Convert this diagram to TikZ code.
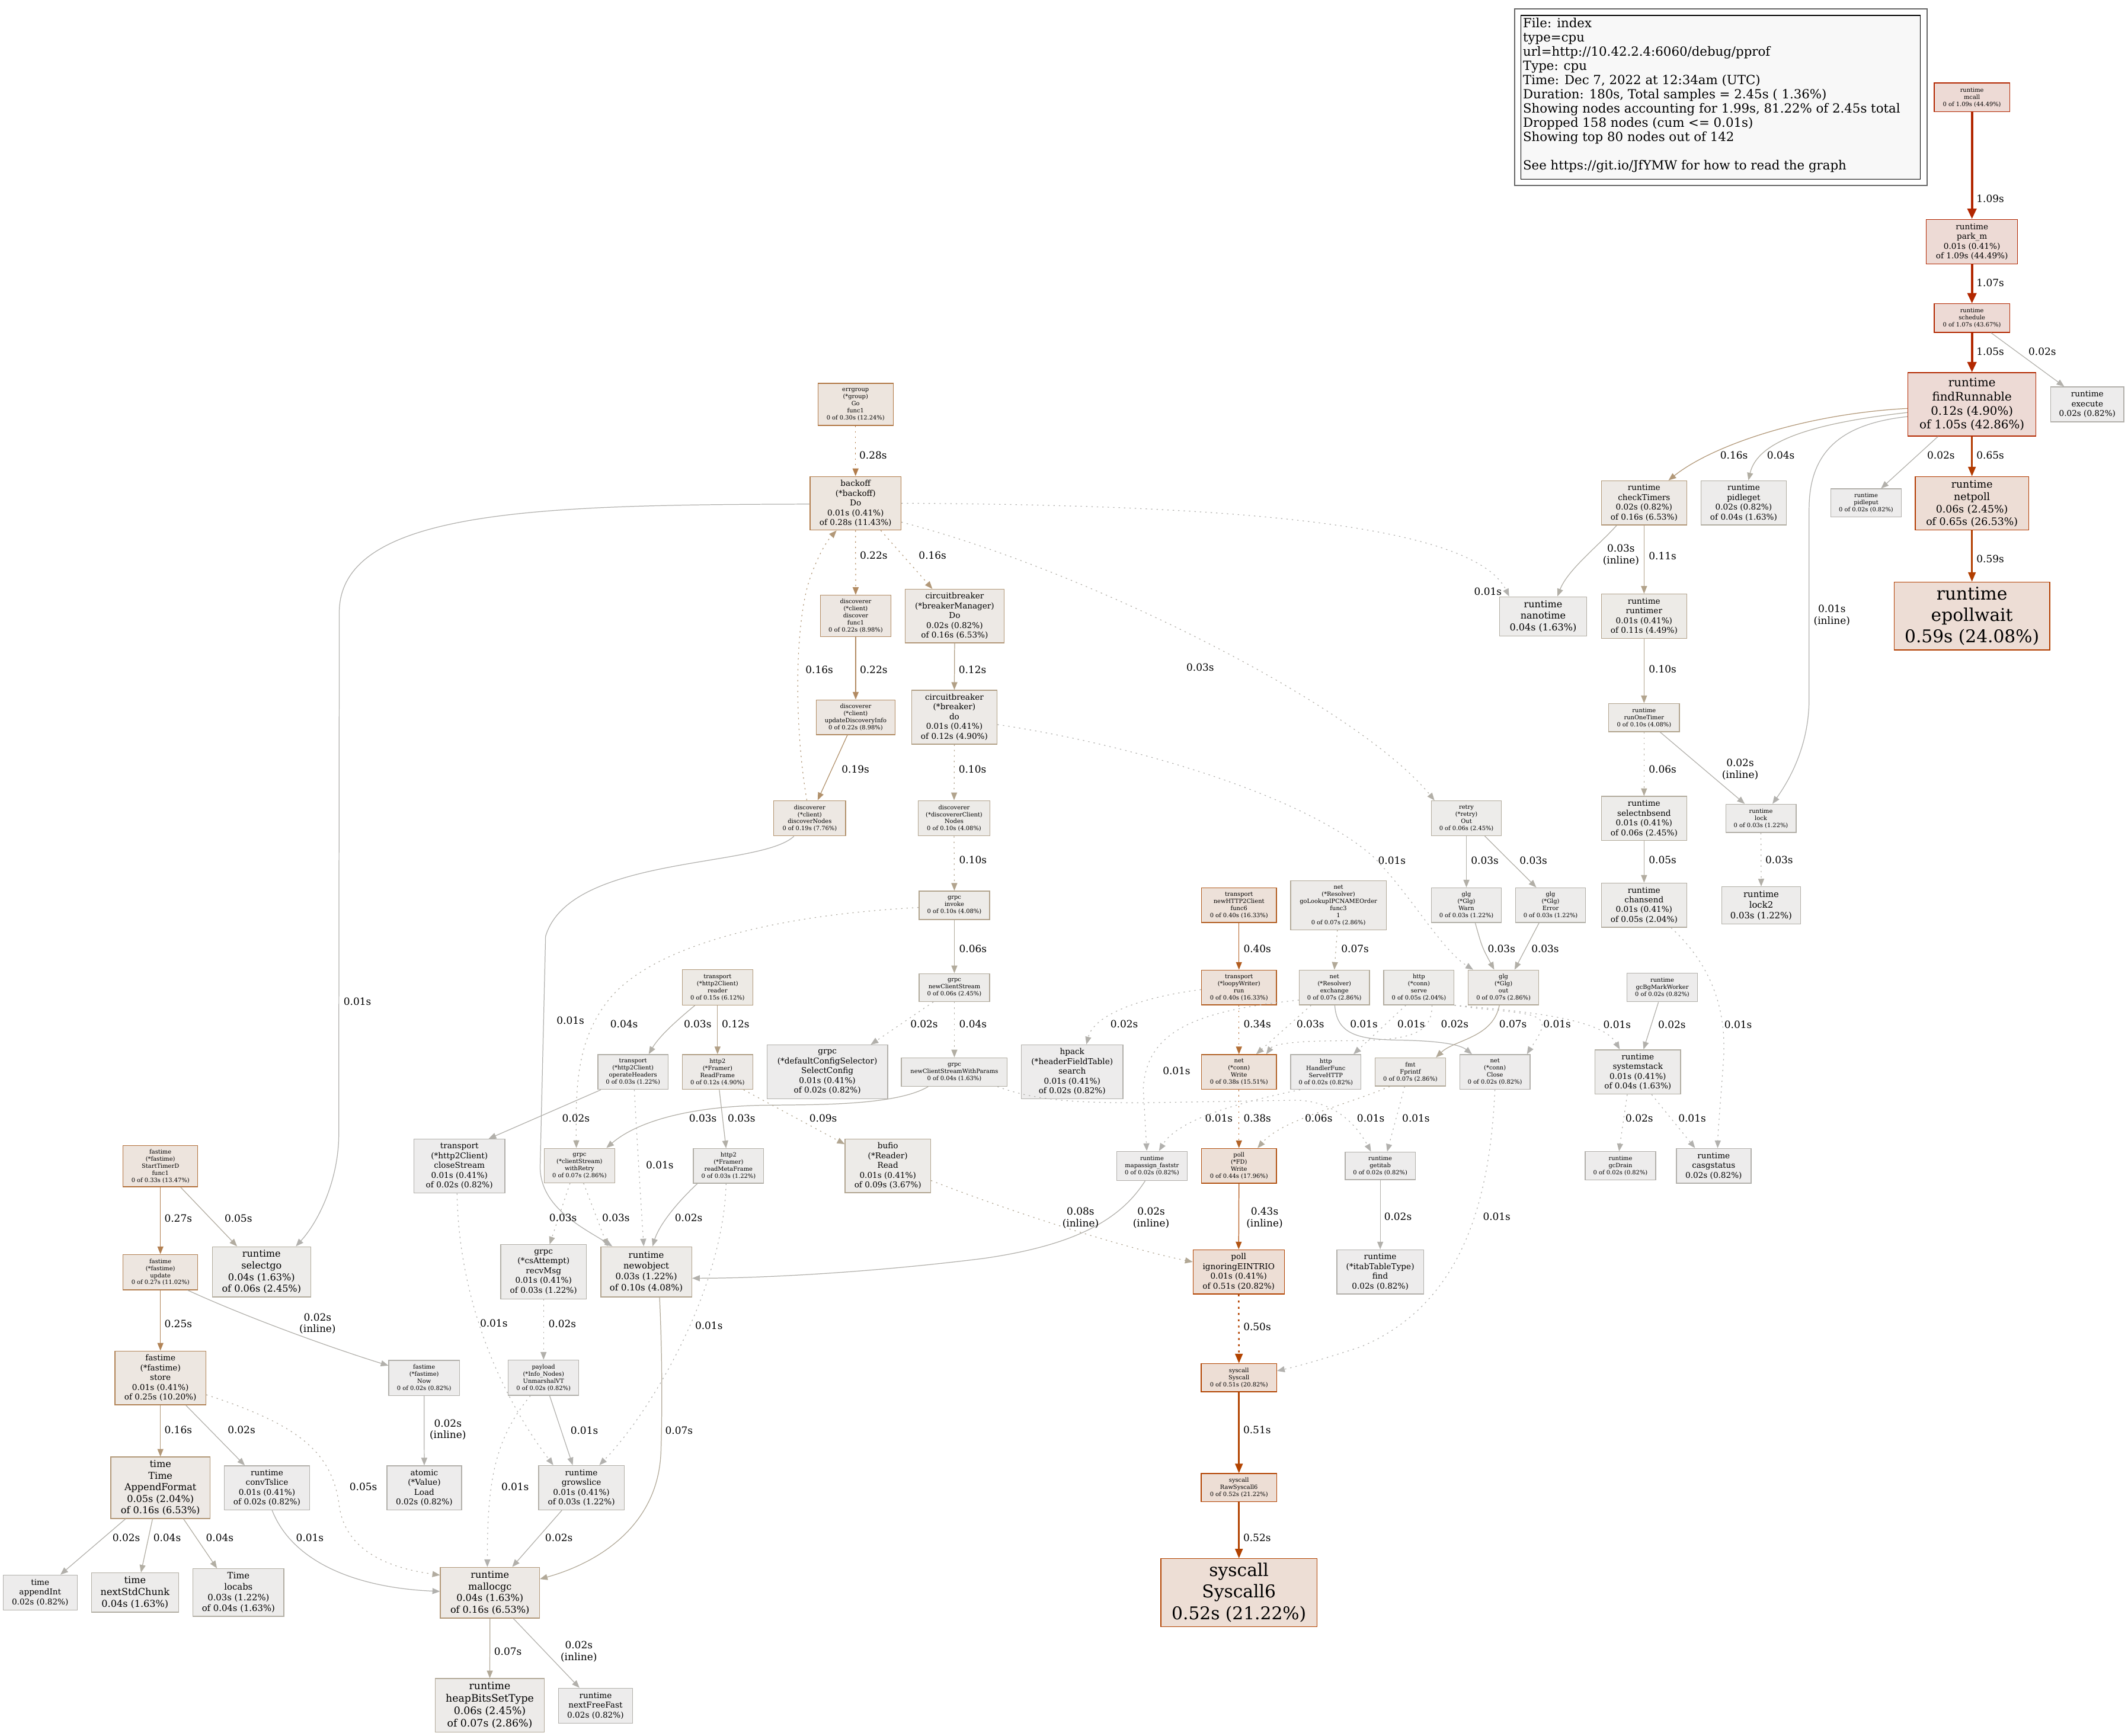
\documentclass[tikz,border=0pt]{standalone}
\usepackage{fontspec}
\setmainfont{DejaVu Serif}
\usetikzlibrary{arrows.meta}
\definecolor{f4449}{HTML}{EDDAD5}\definecolor{d4449}{HTML}{B22600}
\definecolor{d4367}{HTML}{B22700}
\definecolor{d4286}{HTML}{B22800}
\definecolor{f2653}{HTML}{EDDDD5}\definecolor{d2653}{HTML}{B23A00}
\definecolor{d2408}{HTML}{B23E00}
\definecolor{f2122}{HTML}{EDDED5}\definecolor{d2122}{HTML}{B24200}
\definecolor{d2082}{HTML}{B24300}
\definecolor{f1796}{HTML}{EDE0D7}\definecolor{d1796}{HTML}{B25212}
\definecolor{f1633}{HTML}{EDE1D9}\definecolor{d1633}{HTML}{B25D20}
\definecolor{f1551}{HTML}{EDE2DA}\definecolor{d1551}{HTML}{B26328}
\definecolor{f1347}{HTML}{EDE4DD}\definecolor{d1347}{HTML}{B2703A}
\definecolor{f1224}{HTML}{EDE5DE}\definecolor{d1224}{HTML}{B27845}
\definecolor{f1143}{HTML}{EDE6DF}\definecolor{d1143}{HTML}{B27D4C}
\definecolor{f1102}{HTML}{EDE6E0}\definecolor{d1102}{HTML}{B27F50}
\definecolor{f1020}{HTML}{EDE7E1}\definecolor{d1020}{HTML}{B28457}
\definecolor{f898}{HTML}{EDE7E2}\definecolor{d898}{HTML}{B28B62}
\definecolor{f776}{HTML}{EDE8E3}\definecolor{d776}{HTML}{B2926D}
\definecolor{f653}{HTML}{EDE9E5}\definecolor{d653}{HTML}{B29878}
\definecolor{f612}{HTML}{EDEAE5}\definecolor{d612}{HTML}{B29A7B}
\definecolor{f490}{HTML}{EDEAE7}\definecolor{d490}{HTML}{B2A086}
\definecolor{f449}{HTML}{EDEBE7}\definecolor{d449}{HTML}{B2A28A}
\definecolor{f408}{HTML}{EDEBE8}\definecolor{d408}{HTML}{B2A48E}
\definecolor{d367}{HTML}{B2A691}
\definecolor{f286}{HTML}{EDEBE9}\definecolor{d286}{HTML}{B2A998}
\definecolor{f245}{HTML}{EDECEA}\definecolor{d245}{HTML}{B2AB9C}
\definecolor{d204}{HTML}{B2ACA0}
\definecolor{f163}{HTML}{EDECEB}\definecolor{d163}{HTML}{B2AEA3}
\definecolor{d122}{HTML}{B2AFA7}
\definecolor{f082}{HTML}{EDECEC}\definecolor{d082}{HTML}{B2B0AB}
\definecolor{d1755}{HTML}{B25515}
\definecolor{d1388}{HTML}{B26E36}
\definecolor{d327}{HTML}{B2A895}
\definecolor{d041}{HTML}{B2B1AE}
\definecolor{legbg}{HTML}{F8F8F8}
\tikzset{
  pn/.style={rectangle, inner sep=0pt, align=center, line width=0.6pt},
  t8/.style={font=\fontsize{4.32}{5.2}\selectfont},
  t11/.style={font=\fontsize{5.94}{7.2}\selectfont},
  t12/.style={font=\fontsize{6.48}{7.9}\selectfont},
  t13/.style={font=\fontsize{7.02}{8.55}\selectfont},
  t14/.style={font=\fontsize{7.56}{9.2}\selectfont},
  t16/.style={font=\fontsize{8.64}{10.4}\selectfont},
  t24/.style={font=\fontsize{12.96}{15.8}\selectfont},
  c4449/.style={fill=f4449,draw=d4449},
  c4367/.style={fill=f4449,draw=d4367},
  c4286/.style={fill=f4449,draw=d4286},
  c2653/.style={fill=f2653,draw=d2653},
  c2408/.style={fill=f2653,draw=d2408},
  c2122/.style={fill=f2122,draw=d2122},
  c2082/.style={fill=f2122,draw=d2082},
  c1796/.style={fill=f1796,draw=d1796},
  c1633/.style={fill=f1633,draw=d1633},
  c1551/.style={fill=f1551,draw=d1551},
  c1347/.style={fill=f1347,draw=d1347},
  c1224/.style={fill=f1224,draw=d1224},
  c1143/.style={fill=f1143,draw=d1143},
  c1102/.style={fill=f1102,draw=d1102},
  c1020/.style={fill=f1020,draw=d1020},
  c898/.style={fill=f898,draw=d898},
  c776/.style={fill=f776,draw=d776},
  c653/.style={fill=f653,draw=d653},
  c612/.style={fill=f612,draw=d612},
  c490/.style={fill=f490,draw=d490},
  c449/.style={fill=f449,draw=d449},
  c408/.style={fill=f408,draw=d408},
  c367/.style={fill=f408,draw=d367},
  c286/.style={fill=f286,draw=d286},
  c245/.style={fill=f245,draw=d245},
  c204/.style={fill=f245,draw=d204},
  c163/.style={fill=f163,draw=d163},
  c122/.style={fill=f163,draw=d122},
  c082/.style={fill=f082,draw=d082},
  ed/.style={line width=0.54pt, -{Triangle[length=5.6pt,width=4.4pt]}},
  edb/.style={line width=1.08pt, -{Triangle[length=7pt,width=5.6pt]}},
  edc/.style={line width=1.62pt, -{Triangle[length=7.6pt,width=6.6pt]}},
  dt/.style={dash pattern=on 1pt off 3pt},
  dtb/.style={dash pattern=on 1.4pt off 3.2pt},
  el/.style={font=\fontsize{7.4}{8.6}\selectfont, anchor=west, inner sep=0pt},
  elc/.style={font=\fontsize{7.4}{8.6}\selectfont, anchor=center, align=center, inner sep=0pt},
}
\newcommand{\pprofnode}[7]{\node[pn,#6,minimum width=#4pt,minimum height=#5pt] (#1) at (#2,#3) {#7};}
\newcommand{\pprofel}[4]{\node[el] (#1) at (#2,#3) {#4};}
\newcommand{\pprofelc}[4]{\node[elc] (#1) at (#2,#3) {#4};}
\begin{document}
\begin{tikzpicture}[x=1pt,y=-1pt]
\useasboundingbox (0,0) rectangle (1568,1279);
\fill[white] (0,0) rectangle (1568,1279);
% legend
\node[draw=black!60, line width=0.8pt, minimum width=304pt, minimum height=130.2pt, inner sep=0pt] (legendframe) at (1268,71.6) {};
\node[draw=black, fill=legbg, line width=0.6pt, minimum width=294.1pt, minimum height=120.8pt, inner sep=0pt] (legend) at (1267.75,71.8) {};
\node[anchor=north west, inner sep=0pt, align=left, font=\fontsize{9.3}{10.45}\selectfont] (legendtext) at (1122,13.2) {File: index\\type=cpu\\url=http://10.42.2.4:6060/debug/pprof\\Type: cpu\\Time: Dec 7, 2022 at 12:34am (UTC)\\Duration: 180s, Total samples = 2.45s ( 1.36\%)\\Showing nodes accounting for 1.99s, 81.22\% of 2.45s total\\Dropped 158 nodes (cum <= 0.01s)\\Showing top 80 nodes out of 142\\\mbox{}\\See https://git.io/JfYMW for how to read the graph};
% nodes
\pprofnode{mcall}{1453}{71.8}{55.6}{21.2}{t8,c4449}{runtime\\mcall\\0 of 1.09s (44.49\%)}
\pprofnode{parkm}{1453}{178.1}{67.3}{32.9}{t11,c4449}{runtime\\park\_m\\0.01s (0.41\%)\\of 1.09s (44.49\%)}
\pprofnode{schedule}{1453}{234.4}{55.6}{21}{t8,c4367}{runtime\\schedule\\0 of 1.07s (43.67\%)}
\pprofnode{findRunnable}{1453}{298}{94.3}{46.7}{t16,c4286}{runtime\\findRunnable\\0.12s (4.90\%)\\of 1.05s (42.86\%)}
\pprofnode{execute}{1538}{298}{54}{25.7}{t11,c082}{runtime\\execute\\0.02s (0.82\%)}
\pprofnode{checkTimers}{1211.4}{370.6}{63}{32.6}{t11,c653}{runtime\\checkTimers\\0.02s (0.82\%)\\of 0.16s (6.53\%)}
\pprofnode{pidleget}{1284.8}{370.6}{63}{32.6}{t11,c163}{runtime\\pidleget\\0.02s (0.82\%)\\of 0.04s (1.63\%)}
\pprofnode{pidleput}{1375}{370.7}{51.8}{20.8}{t8,c082}{runtime\\pidleput\\0 of 0.02s (0.82\%)}
\pprofnode{netpoll}{1453}{371}{83.6}{39.4}{t14,c2653}{runtime\\netpoll\\0.06s (2.45\%)\\of 0.65s (26.53\%)}
\pprofnode{epollwait}{1453}{454}{114.8}{50}{t24,c2408}{runtime\\epollwait\\0.59s (24.08\%)}
\pprofnode{nanotime}{1137}{454.2}{64}{28.8}{t13,c163}{runtime\\nanotime\\0.04s (1.63\%)}
\pprofnode{runtimer}{1211.4}{454.1}{63}{32.6}{t11,c449}{runtime\\runtimer\\0.01s (0.41\%)\\of 0.11s (4.49\%)}
\pprofnode{runOneTimer}{1211.4}{528.9}{52.2}{20.8}{t8,c408}{runtime\\runOneTimer\\0 of 0.10s (4.08\%)}
\pprofnode{selectnbsend}{1211.4}{603.2}{63}{32.6}{t11,c245}{runtime\\selectnbsend\\0.01s (0.41\%)\\of 0.06s (2.45\%)}
\pprofnode{lock}{1297.5}{603.1}{51.8}{20.8}{t8,c122}{runtime\\lock\\0 of 0.03s (1.22\%)}
\pprofnode{chansend}{1211.4}{667.1}{63}{32.6}{t11,c204}{runtime\\chansend\\0.01s (0.41\%)\\of 0.05s (2.04\%)}
\pprofnode{lockTwo}{1297.7}{667.2}{58}{27.3}{t12,c122}{runtime\\lock2\\0.03s (1.22\%)}
\pprofnode{gcBgMarkWorker}{1224.8}{727.7}{51.8}{21.1}{t8,c082}{runtime\\gcBgMarkWorker\\0 of 0.02s (0.82\%)}
\pprofnode{systemstack}{1206.8}{790}{63}{32.7}{t11,c163}{runtime\\systemstack\\0.01s (0.41\%)\\of 0.04s (1.63\%)}
\pprofnode{gcDrain}{1194}{859.2}{52}{21}{t8,c082}{runtime\\gcDrain\\0 of 0.02s (0.82\%)}
\pprofnode{casgstatus}{1262.7}{859.2}{55}{25.6}{t11,c082}{runtime\\casgstatus\\0.02s (0.82\%)}
\pprofnode{retry}{1080.5}{603}{51.6}{25.6}{t8,c245}{retry\\(*retry)\\Out\\0 of 0.06s (2.45\%)}
\pprofnode{glgWarn}{1080.5}{667.1}{51.6}{25.6}{t8,c122}{glg\\(*Glg)\\Warn\\0 of 0.03s (1.22\%)}
\pprofnode{glgError}{1142.5}{667.1}{51.6}{25.6}{t8,c122}{glg\\(*Glg)\\Error\\0 of 0.03s (1.22\%)}
\pprofnode{glgOut}{1107.8}{727.7}{51.8}{25.6}{t8,c286}{glg\\(*Glg)\\out\\0 of 0.07s (2.86\%)}
\pprofnode{newHTTP}{912.9}{667.1}{55.3}{25.6}{t8,c1633}{transport\\newHTTP2Client\\func6\\0 of 0.40s (16.33\%)}
\pprofnode{goLookup}{986.2}{667.2}{70.4}{36}{t8,c286}{net\\(*Resolver)\\goLookupIPCNAMEOrder\\func3\\1\\0 of 0.07s (2.86\%)}
\pprofnode{loopy}{912.9}{727.7}{55.3}{25.6}{t8,c1633}{transport\\(*loopyWriter)\\run\\0 of 0.40s (16.33\%)}
\pprofnode{exchange}{983.2}{727.7}{51.6}{25.6}{t8,c286}{net\\(*Resolver)\\exchange\\0 of 0.07s (2.86\%)}
\pprofnode{serve}{1045.5}{727.7}{51.8}{25.6}{t8,c204}{http\\(*conn)\\serve\\0 of 0.05s (2.04\%)}
\pprofnode{netWrite}{912.9}{790}{55.3}{25.6}{t8,c1551}{net\\(*conn)\\Write\\0 of 0.38s (15.51\%)}
\pprofnode{handler}{976.9}{790}{51.8}{25.6}{t8,c082}{http\\HandlerFunc\\ServeHTTP\\0 of 0.02s (0.82\%)}
\pprofnode{fprintf}{1039.2}{790}{51.7}{20.8}{t8,c286}{fmt\\Fprintf\\0 of 0.07s (2.86\%)}
\pprofnode{netClose}{1101.5}{790}{51.8}{25.6}{t8,c082}{net\\(*conn)\\Close\\0 of 0.02s (0.82\%)}
\pprofnode{hpack}{790}{789.8}{75}{39.7}{t11,c082}{hpack\\(*headerFieldTable)\\search\\0.01s (0.41\%)\\of 0.02s (0.82\%)}
\pprofnode{mapassign}{848.8}{859.2}{52}{21.4}{t8,c082}{runtime\\mapassign\_faststr\\0 of 0.02s (0.82\%)}
\pprofnode{pollWrite}{912.9}{859.2}{55.3}{25.6}{t8,c1796}{poll\\(*FD)\\Write\\0 of 0.44s (17.96\%)}
\pprofnode{getitab}{1017}{859.2}{51.8}{20.4}{t8,c082}{runtime\\getitab\\0 of 0.02s (0.82\%)}
\pprofnode{eintr}{912.7}{937.3}{67.2}{32.6}{t11,c2082}{poll\\ignoringEINTRIO\\0.01s (0.41\%)\\of 0.51s (20.82\%)}
\pprofnode{itabfind}{1017}{937.3}{64}{32.6}{t11,c082}{runtime\\(*itabTableType)\\find\\0.02s (0.82\%)}
\pprofnode{syscall}{912.9}{1015.3}{55.6}{20.7}{t8,c2082}{syscall\\Syscall\\0 of 0.51s (20.82\%)}
\pprofnode{rawsix}{912.9}{1096.3}{55.6}{20.7}{t8,c2122}{syscall\\RawSyscall6\\0 of 0.52s (21.22\%)}
\pprofnode{syscallsix}{912.9}{1173.7}{115}{50}{t24,c2122}{syscall\\Syscall6\\0.52s (21.22\%)}
\pprofnode{errgroup}{630.4}{298}{55.4}{31}{t8,c1224}{errgroup\\(*group)\\Go\\func1\\0 of 0.30s (12.24\%)}
\pprofnode{backoff}{630.4}{370.9}{67}{39.5}{t11,c1143}{backoff\\(*backoff)\\Do\\0.01s (0.41\%)\\of 0.28s (11.43\%)}
\pprofnode{discFunc}{630.5}{454}{52}{30.6}{t8,c898}{discoverer\\(*client)\\discover\\func1\\0 of 0.22s (8.98\%)}
\pprofnode{breakerMgr}{703.4}{454}{73}{39.5}{t11,c653}{circuitbreaker\\(*breakerManager)\\Do\\0.02s (0.82\%)\\of 0.16s (6.53\%)}
\pprofnode{updDisc}{630.5}{528.6}{58}{25.6}{t8,c898}{discoverer\\(*client)\\updateDiscoveryInfo\\0 of 0.22s (8.98\%)}
\pprofnode{breakerDo}{703.2}{528.5}{63}{39.7}{t11,c490}{circuitbreaker\\(*breaker)\\do\\0.01s (0.41\%)\\of 0.12s (4.90\%)}
\pprofnode{discNodes}{596.6}{603}{53}{26}{t8,c776}{discoverer\\(*client)\\discoverNodes\\0 of 0.19s (7.76\%)}
\pprofnode{discClient}{703}{603}{53}{26}{t8,c408}{discoverer\\(*discovererClient)\\Nodes\\0 of 0.10s (4.08\%)}
\pprofnode{invoke}{703.2}{667.2}{52}{21}{t8,c408}{grpc\\invoke\\0 of 0.10s (4.08\%)}
\pprofnode{newCS}{703.2}{727.8}{52}{20.6}{t8,c245}{grpc\\newClientStream\\0 of 0.06s (2.45\%)}
\pprofnode{newCSWP}{703.2}{790}{78}{21}{t8,c163}{grpc\\newClientStreamWithParams\\0 of 0.04s (1.63\%)}
\pprofnode{selectConfig}{609.6}{790}{89}{39.7}{t11,c082}{grpc\\(*defaultConfigSelector)\\SelectConfig\\0.01s (0.41\%)\\of 0.02s (0.82\%)}
\pprofnode{reader}{528.7}{727.7}{52}{26}{t8,c612}{transport\\(*http2Client)\\reader\\0 of 0.15s (6.12\%)}
\pprofnode{operateHeaders}{466.4}{790}{51.7}{25.7}{t8,c122}{transport\\(*http2Client)\\operateHeaders\\0 of 0.03s (1.22\%)}
\pprofnode{readFrame}{528.7}{790}{52}{25.7}{t8,c490}{http2\\(*Framer)\\ReadFrame\\0 of 0.12s (4.90\%)}
\pprofnode{withRetry}{427}{859}{52}{25.4}{t8,c286}{grpc\\(*clientStream)\\withRetry\\0 of 0.07s (2.86\%)}
\pprofnode{readMeta}{536.8}{859.2}{51.7}{25.4}{t8,c122}{http2\\(*Framer)\\readMetaFrame\\0 of 0.03s (1.22\%)}
\pprofnode{bufio}{654.2}{859.2}{63}{39.4}{t11,c367}{bufio\\(*Reader)\\Read\\0.01s (0.41\%)\\of 0.09s (3.67\%)}
\pprofnode{closeStream}{338.5}{859.4}{67}{39.7}{t11,c082}{transport\\(*http2Client)\\closeStream\\0.01s (0.41\%)\\of 0.02s (0.82\%)}
\pprofnode{newobject}{476.2}{937.3}{67}{37}{t12,c408}{runtime\\newobject\\0.03s (1.22\%)\\of 0.10s (4.08\%)}
\pprofnode{recvMsg}{400.5}{937.3}{63}{40}{t11,c122}{grpc\\(*csAttempt)\\recvMsg\\0.01s (0.41\%)\\of 0.03s (1.22\%)}
\pprofnode{unmarshal}{400.5}{1015.3}{52}{26}{t8,c082}{payload\\(*Info\_Nodes)\\UnmarshalVT\\0 of 0.02s (0.82\%)}
\pprofnode{growslice}{428.4}{1096.4}{63}{32.7}{t11,c122}{runtime\\growslice\\0.01s (0.41\%)\\of 0.03s (1.22\%)}
\pprofnode{mallocgc}{361}{1173.8}{73}{37.4}{t13,c653}{runtime\\mallocgc\\0.04s (1.63\%)\\of 0.16s (6.53\%)}
\pprofnode{heapBits}{360.9}{1256.8}{80.5}{39.5}{t14,c286}{runtime\\heapBitsSetType\\0.06s (2.45\%)\\of 0.07s (2.86\%)}
\pprofnode{nextFreeFast}{438.8}{1257}{54.7}{25.7}{t11,c082}{runtime\\nextFreeFast\\0.02s (0.82\%)}
\pprofnode{startTimer}{118.2}{859.4}{55}{30.5}{t8,c1347}{fastime\\(*fastime)\\StartTimerD\\func1\\0 of 0.33s (13.47\%)}
\pprofnode{selectgo}{192.7}{937.3}{72.6}{37}{t13,c245}{runtime\\selectgo\\0.04s (1.63\%)\\of 0.06s (2.45\%)}
\pprofnode{update}{118.2}{937.5}{55}{26}{t8,c1102}{fastime\\(*fastime)\\update\\0 of 0.27s (11.02\%)}
\pprofnode{store}{118.2}{1015.5}{67}{39.7}{t11,c1020}{fastime\\(*fastime)\\store\\0.01s (0.41\%)\\of 0.25s (10.20\%)}
\pprofnode{now}{312.5}{1015.5}{52}{26}{t8,c082}{fastime\\(*fastime)\\Now\\0 of 0.02s (0.82\%)}
\pprofnode{appendFormat}{118.2}{1096.4}{73}{45.3}{t13,c653}{time\\Time\\AppendFormat\\0.05s (2.04\%)\\of 0.16s (6.53\%)}
\pprofnode{convTslice}{196.7}{1096.5}{62.8}{32.5}{t11,c082}{runtime\\convTslice\\0.01s (0.41\%)\\of 0.02s (0.82\%)}
\pprofnode{atomicLoad}{312.6}{1096.5}{55}{32.5}{t11,c082}{atomic\\(*Value)\\Load\\0.02s (0.82\%)}
\pprofnode{appendInt}{29.6}{1173.6}{54.6}{25.7}{t11,c082}{time\\appendInt\\0.02s (0.82\%)}
\pprofnode{nextStdChunk}{99.5}{1173.6}{64.2}{28.9}{t13,c163}{time\\nextStdChunk\\0.04s (1.63\%)}
\pprofnode{locabs}{175.7}{1173.6}{67}{35}{t12,c163}{Time\\locabs\\0.03s (1.22\%)\\of 0.04s (1.63\%)}
% edges: top chain
\draw[edc,draw=d4449] (mcall.south) -- (parkm.north);
\draw[edc,draw=d4367] (parkm.south) -- (schedule.north);
\draw[edc,draw=d4286] (schedule.south) -- (findRunnable.north);
\draw[ed,draw=d082] ([xshift=14pt]schedule.south) -- ([xshift=-17pt]execute.north);
\draw[ed,draw=d653] ([yshift=-3pt]findRunnable.west) .. controls (1330,305) and (1262,328) .. ([xshift=18pt]checkTimers.north);
\draw[ed,draw=d163] ([yshift=-6pt]findRunnable.west) .. controls (1335,312) and (1295,325) .. ([xshift=3.5pt]pidleget.north);
\draw[ed,draw=d041] ([yshift=-9pt]findRunnable.west) .. controls (1360,312) and (1333,330) .. (1333,375) -- (1333,515) .. controls (1333,545) and (1322,570) .. ([xshift=8.5pt]lock.north);
\draw[ed,draw=d082] ([xshift=-25pt]findRunnable.south) -- ([xshift=11pt]pidleput.north);
\draw[edb,draw=d2653] (findRunnable.south) -- (netpoll.north);
\draw[edb,draw=d2408] (netpoll.south) -- (epollwait.north);
% timers
\draw[ed,draw=d122] ([xshift=-20.2pt]checkTimers.south) .. controls (1178,402) and (1155,420) .. ([xshift=10.6pt]nanotime.north);
\draw[ed,draw=d449] (checkTimers.south) -- (runtimer.north);
\draw[ed,draw=d408] (runtimer.south) -- (runOneTimer.north);
\draw[ed,dt,draw=d245] (runOneTimer.south) -- (selectnbsend.north);
\draw[ed,draw=d082] ([xshift=11.9pt]runOneTimer.south) -- ([xshift=-11.9pt]lock.north);
\draw[ed,draw=d204] (selectnbsend.south) -- (chansend.north);
\draw[ed,dt,draw=d122] (lock.south) -- (lockTwo.north);
\draw[ed,dt,draw=d041] ([xshift=19.9pt]chansend.south) .. controls (1262,712) and (1272,745) .. (1270,780) .. controls (1268,810) and (1266,830) .. ([xshift=2.9pt]casgstatus.north);
\draw[ed,draw=d082] ([xshift=-2.8pt]gcBgMarkWorker.south) -- ([xshift=4.2pt]systemstack.north);
\draw[ed,dt,draw=d041] (serve.south east) .. controls (1120,745) and (1180,750) .. ([xshift=-13.3pt]systemstack.north);
\draw[ed,dt,draw=d082] ([xshift=-7.8pt]systemstack.south) .. controls (1196,825) .. ([xshift=-1pt]gcDrain.north);
\draw[ed,dt,draw=d041] ([xshift=10.2pt]systemstack.south) -- ([xshift=-13.7pt]casgstatus.north);
% glg
\draw[ed,draw=d122] (retry.south) -- (glgWarn.north);
\draw[ed,draw=d122] ([xshift=13.5pt]retry.south) -- ([xshift=-10.5pt]glgError.north);
\draw[ed,draw=d122] ([xshift=6.5pt]glgWarn.south) .. controls (1092,698) .. ([xshift=-6.8pt]glgOut.north);
\draw[ed,draw=d122] ([xshift=-8.5pt]glgError.south) -- ([xshift=8.2pt]glgOut.north);
\draw[ed,dt,draw=d041] ([yshift=-5.5pt]breakerDo.east) .. controls (830,548) and (960,585) .. (1012,631.5) .. controls (1040,660) and (1062,700) .. ([xshift=-22.3pt]glgOut.north);
\draw[ed,dt,draw=d122] ([yshift=-13.9pt]backoff.east) .. controls (800,420) and (1000,520) .. ([xshift=-23.5pt]retry.north);
\draw[ed,dt,draw=d041] (backoff.east) .. controls (900,372) and (1085,385) .. ([xshift=-25pt]nanotime.north);
% net
\draw[ed,draw=d1633] (newHTTP.south) -- (loopy.north);
\draw[ed,dt,draw=d286] ([xshift=-0.8pt]goLookup.south) -- (exchange.north);
\draw[ed,dt,draw=d1388] (loopy.south) -- (netWrite.north);
\draw[ed,dt,draw=d082] ([yshift=-1.6pt]loopy.west) .. controls (840,735) and (806,748) .. ([xshift=10.5pt]hpack.north);
\draw[ed,dt,draw=d122] ([xshift=-17.1pt]exchange.south) -- ([xshift=12.7pt]netWrite.north);
\draw[ed,draw=d041] ([xshift=0.3pt]exchange.south) .. controls (985,762) and (1000,766) .. (1030,766.5) .. controls (1062,767) and (1076,770) .. ([xshift=-16.9pt]netClose.north);
\draw[ed,dt,draw=d041] ([yshift=-9.3pt]exchange.west) .. controls (880,745) and (845,760) .. (842.4,802) -- ([xshift=-3.8pt]mapassign.north);
\draw[ed,dt,draw=d041] ([xshift=-9.6pt]serve.south) -- ([xshift=20.4pt]handler.north);
\draw[ed,dt,draw=d082] ([xshift=9.7pt]serve.south) .. controls (1055,762) and (1040,767) .. (990,767) .. controls (950,767) and (938,770) .. ([xshift=20.1pt]netWrite.north);
\draw[ed,draw=d286] ([xshift=-3pt]glgOut.south) .. controls (1100,765) and (1072,766) .. ([xshift=18.8pt]fprintf.north);
\draw[ed,dt,draw=d041] (serve.south east) .. controls (1110,747) and (1140,744) .. (1136,758) .. controls (1133,766) and (1128,772) .. ([xshift=23.6pt]netClose.north);
\draw[ed,dt,draw=d1551] (netWrite.south) -- (pollWrite.north);
\draw[ed,dt,draw=d245] ([xshift=-15.2pt]fprintf.south) .. controls (990,815) and (945,825) .. ([xshift=13.7pt]pollWrite.north);
\draw[ed,dt,draw=d041] ([xshift=-4.2pt]fprintf.south) -- ([xshift=5.1pt]getitab.north);
\draw[ed,dt,draw=d041] ([xshift=31.8pt]newCSWP.south) .. controls (765,812) and (800,813) .. (850,812.6) -- (956,810.8) .. controls (985,812) and (1000,830) .. ([xshift=-6.8pt]getitab.north);
\draw[ed,dt,draw=d041] ([xshift=-18.9pt]handler.south) .. controls (900,815) and (866,828) .. ([xshift=5.2pt]mapassign.north);
\draw[ed,draw=d1755] (pollWrite.south) -- (eintr.north);
\draw[ed,draw=d082] ([xshift=-5pt]mapassign.south) .. controls (825,900) and (790,918) .. (724.8,927.4) .. controls (640,938) and (560,942) .. ([yshift=-4.7pt]newobject.east);
\draw[edb,dtb,draw=d2082] (eintr.south) -- (syscall.north);
\draw[edb,draw=d2082] (syscall.south) -- (rawsix.north);
\draw[edb,draw=d2122] (rawsix.south) -- (syscallsix.north);
\draw[ed,draw=d082] (getitab.south) -- (itabfind.north);
\draw[ed,dt,draw=d041] (netClose.south) .. controls (1098,880) and (1080,960) .. (1002.8,992.5) .. controls (980,1000) and (960,1006) .. ([yshift=5pt]syscall.east);
\draw[ed,dt,draw=d327] ([yshift=-10.8pt]bufio.east) .. controls (750,895) and (830,920) .. ([yshift=7.3pt]eintr.west);
% backoff cluster
\draw[ed,dt,draw=d1143] (errgroup.south) -- (backoff.north);
\draw[ed,dt,draw=d898] (backoff.south) -- (discFunc.north);
\draw[ed,dt,draw=d653] ([xshift=18.6pt]backoff.south) -- ([xshift=-16.4pt]breakerMgr.north);
\draw[ed,draw=d898] (discFunc.south) -- (updDisc.north);
\draw[ed,draw=d490] (breakerMgr.south) -- (breakerDo.north);
\draw[ed,draw=d776] ([xshift=-6.1pt]updDisc.south) -- ([xshift=5.9pt]discNodes.north);
\draw[ed,dt,draw=d653] ([xshift=-2.1pt]discNodes.north) .. controls (586,540) and (585,470) .. (595,432) .. controls (600,415) and (608,400) .. ([xshift=-14pt]backoff.south);
\draw[ed,dt,draw=d408] (breakerDo.south) -- (discClient.north);
\draw[ed,dt,draw=d408] (discClient.south) -- (invoke.north);
\draw[ed,draw=d245] (invoke.south) -- (newCS.north);
\draw[ed,dt,draw=d163] ([yshift=-1.6pt]invoke.west) .. controls (560,675) and (480,700) .. (450,735) .. controls (425,765) and (424,800) .. ([xshift=-2.3pt]withRetry.north);
\draw[ed,dt,draw=d163] (newCS.south) -- (newCSWP.north);
\draw[ed,dt,draw=d082] ([xshift=-15.5pt]newCS.south) -- ([xshift=32pt]selectConfig.north);
\draw[ed,draw=d122] ([xshift=-19.3pt]newCSWP.south) .. controls (660,815) and (600,814) .. (566,814.5) .. controls (510,815) and (470,826) .. ([xshift=19.8pt]withRetry.north);
\draw[ed,draw=d122] ([xshift=-16.7pt]reader.south) .. controls (495,755) and (485,765) .. ([xshift=11.6pt]operateHeaders.north);
\draw[ed,draw=d490] (reader.south) -- (readFrame.north);
\draw[ed,draw=d082] ([xshift=-23.7pt]operateHeaders.south) -- ([xshift=21.5pt]closeStream.north);
\draw[ed,dt,draw=d041] ([xshift=1pt]operateHeaders.south) .. controls (470,850) .. ([xshift=-1.9pt]newobject.north);
\draw[ed,draw=d122] ([xshift=1.3pt]readFrame.south) -- ([xshift=-1.8pt]readMeta.north);
\draw[ed,dt,draw=d367] ([xshift=19.2pt]readFrame.south) -- ([yshift=-4pt]bufio.north west);
\draw[ed,dt,draw=d122] ([xshift=-7pt]withRetry.south) -- ([xshift=4.5pt]recvMsg.north);
\draw[ed,dt,draw=d122] ([xshift=3pt]withRetry.south) -- ([xshift=-28.5pt]newobject.north);
\draw[ed,draw=d082] ([xshift=-22.9pt]readMeta.south) .. controls (495,890) and (485,905) .. ([xshift=4.6pt]newobject.north);
\draw[ed,dt,draw=d041] ([xshift=-1.8pt]readMeta.south) .. controls (533,950) and (480,1040) .. ([xshift=13.2pt]growslice.north);
\draw[ed,draw=d041] ([xshift=-11.6pt]discNodes.south) .. controls (560,640) and (420,630) .. (402,690) -- (398,860) .. controls (398,890) and (430,905) .. ([xshift=-25pt]newobject.north);
\draw[ed,draw=d041] ([yshift=-0.6pt]backoff.west) .. controls (400,372) and (252,375) .. (250,450) -- (249.6,838) .. controls (249,870) and (235,900) .. ([xshift=25.3pt]selectgo.north);
% fastime
\draw[ed,draw=d1102] (startTimer.south) -- (update.north);
\draw[ed,draw=d204] ([xshift=14.9pt]startTimer.south) -- ([xshift=-18pt]selectgo.north);
\draw[ed,draw=d1020] (update.south) -- (store.north);
\draw[ed,draw=d082] ([xshift=20pt]update.south) .. controls (180,970) and (240,992) .. ([yshift=9.1pt]now.west);
\draw[ed,draw=d653] (store.south) -- (appendFormat.north);
\draw[ed,draw=d082] ([xshift=18.8pt]store.south) -- ([xshift=-16.3pt]convTslice.north);
\draw[ed,dt,draw=d204] ([yshift=-12.4pt]store.east) .. controls (220,1050) and (245,1070) .. (250,1110) .. controls (255,1145) and (290,1156) .. ([yshift=13pt]mallocgc.west);
\draw[ed,draw=d082] (now.south) -- (atomicLoad.north);
\draw[ed,draw=d082] ([xshift=-25.7pt]appendFormat.south) -- ([xshift=14.9pt]appendInt.north);
\draw[ed,draw=d163] ([xshift=-5.8pt]appendFormat.south) -- ([xshift=4.4pt]nextStdChunk.north);
\draw[ed,draw=d163] ([xshift=17pt]appendFormat.south) -- ([xshift=-15.8pt]locabs.north);
\draw[ed,draw=d041] ([xshift=3.8pt]convTslice.south) .. controls (215,1150) and (260,1170) .. ([yshift=1pt]mallocgc.west);
\draw[ed,dt,draw=d041] ([xshift=-1.7pt]closeStream.south) .. controls (338,960) and (370,1030) .. ([xshift=-20.7pt]growslice.north);
\draw[ed,dt,draw=d082] (recvMsg.south) -- (unmarshal.north);
\draw[ed,draw=d041] ([xshift=4.5pt]unmarshal.south) -- ([xshift=-6.4pt]growslice.north);
\draw[ed,dt,draw=d041] ([xshift=-9.7pt]unmarshal.south) .. controls (365,1060) and (359,1090) .. ([xshift=-1.9pt]mallocgc.north);
\draw[ed,draw=d286] ([xshift=9.8pt]newobject.south) .. controls (488,1000) and (488,1040) .. (487,1070) .. controls (485,1125) and (440,1152) .. ([yshift=10.1pt]mallocgc.east);
\draw[ed,draw=d082] ([xshift=-14.4pt]growslice.south) -- ([xshift=16.4pt]mallocgc.north);
\draw[ed,draw=d286] (mallocgc.south) -- (heapBits.north);
\draw[ed,draw=d082] ([xshift=17.3pt]mallocgc.south) -- ([xshift=-11.8pt]nextFreeFast.north);
% edge labels
\pprofel{la1}{1456.2}{146.3}{1.09s}
\pprofel{la2}{1456.2}{208.4}{1.07s}
\pprofel{la3}{1456.2}{258.9}{1.05s}
\pprofel{la4}{1494.5}{258.9}{0.02s}
\pprofel{la5}{1267.3}{335.5}{0.16s}
\pprofel{la6}{1301.8}{335.5}{0.04s}
\pprofelc{la7}{1349.8}{453.5}{0.01s\\(inline)}
\pprofel{la8}{1419.8}{335.5}{0.02s}
\pprofel{la9}{1456.2}{335.5}{0.65s}
\pprofel{la10}{1456.2}{412}{0.59s}
\pprofelc{la11}{1194.4}{409}{0.03s\\(inline)}
\pprofel{la12}{1214.7}{409.5}{0.11s}
\pprofel{la13}{1214.7}{492.9}{0.10s}
\pprofel{la14}{1214.7}{566.9}{0.06s}
\pprofelc{la15}{1282.2}{567}{0.02s\\(inline)}
\pprofel{la16}{1214.7}{633.5}{0.05s}
\pprofel{la17}{1300.6}{633.5}{0.03s}
\pprofel{la18}{1270.4}{755}{0.01s}
\pprofel{la19}{1221.6}{755}{0.02s}
\pprofel{la20}{1181.2}{755}{0.01s}
\pprofel{la21}{1197.6}{824.1}{0.02s}
\pprofel{la22}{1236.5}{824.1}{0.01s}
\pprofel{la23}{1083.7}{634}{0.03s}
\pprofel{la24}{1119.5}{634}{0.03s}
\pprofel{la25}{1096}{699.2}{0.03s}
\pprofel{la26}{1128.2}{699.2}{0.03s}
\pprofel{la27}{1015.3}{634}{0.01s}
\pprofel{la28}{874}{492}{0.03s}
\pprofel{la29}{1086}{436}{0.01s}
\pprofel{la30}{916.1}{699.2}{0.40s}
\pprofel{la31}{988.1}{699.2}{0.07s}
\pprofel{la32}{916.1}{754.7}{0.34s}
\pprofel{la33}{818}{754.7}{0.02s}
\pprofel{la34}{955.2}{754.7}{0.03s}
\pprofel{la35}{994.6}{754.7}{0.01s}
\pprofel{la36}{856.6}{789.2}{0.01s}
\pprofel{la37}{1029.5}{754.7}{0.01s}
\pprofel{la38}{1061.6}{754.7}{0.02s}
\pprofel{la39}{1104.5}{754.7}{0.07s}
\pprofel{la40}{1137}{754.7}{0.01s}
\pprofel{la41}{916.1}{824.1}{0.38s}
\pprofel{la42}{961.3}{824.1}{0.06s}
\pprofel{la43}{1033}{824.1}{0.01s}
\pprofel{la44}{999.7}{824.1}{0.01s}
\pprofel{la45}{887.8}{824.1}{0.01s}
\pprofelc{la46}{931.8}{897.6}{0.43s\\(inline)}
\pprofelc{la47}{848.2}{897.6}{0.02s\\(inline)}
\pprofel{la48}{916}{978}{0.50s}
\pprofel{la49}{915.9}{1053.9}{0.51s}
\pprofel{la50}{915.9}{1133.1}{0.52s}
\pprofel{la51}{1019.7}{896.4}{0.02s}
\pprofel{la52}{1092.5}{896.4}{0.01s}
\pprofelc{la53}{796.2}{897.6}{0.08s\\(inline)}
\pprofel{la54}{633}{335.5}{0.28s}
\pprofel{la55}{633.4}{409.3}{0.22s}
\pprofel{la56}{676.8}{409.3}{0.16s}
\pprofel{la57}{633.4}{493.4}{0.22s}
\pprofel{la58}{706.2}{493.4}{0.12s}
\pprofel{la59}{620}{566.8}{0.19s}
\pprofel{la60}{593.4}{493.4}{0.16s}
\pprofel{la61}{706.2}{566.8}{0.10s}
\pprofel{la62}{706.6}{633.7}{0.10s}
\pprofel{la63}{706.6}{699.2}{0.06s}
\pprofel{la64}{449.5}{754.8}{0.04s}
\pprofel{la65}{706.6}{754.7}{0.04s}
\pprofel{la66}{670.6}{754.7}{0.02s}
\pprofel{la67}{507.6}{824.2}{0.03s}
\pprofel{la68}{503.7}{754.8}{0.03s}
\pprofel{la69}{531.7}{754.8}{0.12s}
\pprofel{la70}{414}{824.2}{0.02s}
\pprofel{la71}{475.8}{858.7}{0.01s}
\pprofel{la72}{536.1}{824.2}{0.03s}
\pprofel{la73}{596.2}{824.2}{0.09s}
\pprofel{la74}{404.5}{897.5}{0.03s}
\pprofel{la75}{443.5}{897.5}{0.03s}
\pprofel{la76}{497.1}{897.5}{0.02s}
\pprofel{la77}{512}{977}{0.01s}
\pprofel{la78}{410}{752}{0.01s}
\pprofel{la79}{253}{738}{0.01s}
\pprofel{la80}{121}{897.8}{0.27s}
\pprofel{la81}{165.3}{897.8}{0.05s}
\pprofel{la82}{121}{975.7}{0.25s}
\pprofelc{la83}{234}{975.5}{0.02s\\(inline)}
\pprofel{la84}{121}{1053.8}{0.16s}
\pprofel{la85}{167.6}{1053.8}{0.02s}
\pprofel{la86}{257.4}{1095.6}{0.05s}
\pprofelc{la87}{330}{1053.6}{0.02s\\(inline)}
\pprofel{la88}{82.7}{1133.3}{0.02s}
\pprofel{la89}{112.8}{1133.3}{0.04s}
\pprofel{la90}{151.6}{1133.3}{0.04s}
\pprofel{la91}{218}{1133.3}{0.01s}
\pprofel{la92}{353.5}{975.2}{0.01s}
\pprofel{la93}{404}{975.5}{0.02s}
\pprofel{la94}{420.2}{1054}{0.01s}
\pprofel{la95}{369.2}{1095.8}{0.01s}
\pprofel{la96}{490}{1054}{0.07s}
\pprofel{la97}{401.5}{1133.4}{0.02s}
\pprofel{la98}{363.9}{1217}{0.07s}
\pprofelc{la99}{426.5}{1217}{0.02s\\(inline)}
\end{tikzpicture}
\end{document}
